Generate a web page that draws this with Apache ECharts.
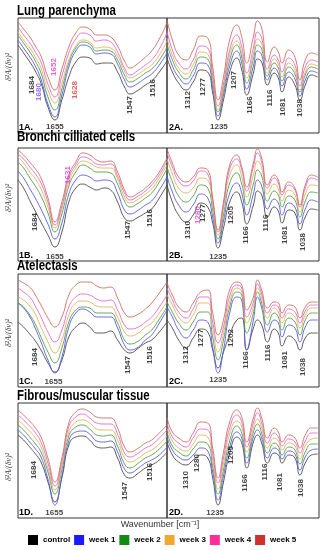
<!DOCTYPE html>
<html><head><meta charset="utf-8">
<script src="https://cdn.jsdelivr.net/npm/echarts@6/dist/echarts.min.js"></script>
<style>html,body{margin:0;padding:0;background:#fff}#c{width:326px;height:550px}</style>
</head><body><div id="c"></div><script>
// wavenumber sample positions (cm-1)
const wnLeft  = [1708, 1700, 1690, 1684, 1675, 1665, 1655, 1645, 1635, 1625, 1615, 1605, 1595, 1585, 1575, 1565, 1555, 1547, 1535, 1525, 1516, 1505, 1494];
const wnRight = [1358, 1345, 1330, 1312, 1295, 1277, 1260, 1248, 1235, 1222, 1207, 1190, 1178, 1166, 1150, 1140, 1130, 1116, 1100, 1090, 1081, 1065, 1050, 1038, 1025, 1010, 995];

const seriesNames = ['control', 'week 1', 'week 2', 'week 3', 'week 4', 'week 5'];
const titles = ['Lung parenchyma', 'Bronchi cilliated cells', 'Atelectasis', 'Fibrous/muscular tissue'];

// second-derivative spectra (arbitrary offset units), order: control, week1..week5
const panel1A = [
  [88, 80, 70, 63, 50, 26, 13, 33, 56, 71, 76, 75, 69, 70, 70, 61, 46, 39, 43, 48, 52, 61, 72],
  [93, 85, 75, 68, 54, 29, 16, 38, 66, 82, 88, 86, 79, 80, 79, 69, 53, 46, 50, 55, 59, 68, 80],
  [98, 90, 80, 73, 60, 36, 23, 44, 70, 85, 91, 89, 82, 83, 82, 73, 58, 51, 55, 60, 64, 73, 86],
  [101, 93, 84, 77, 65, 43, 30, 50, 73, 87, 93, 91, 85, 86, 85, 77, 62, 55, 59, 64, 68, 78, 92],
  [106, 98, 89, 82, 71, 49, 36, 57, 80, 94, 100, 98, 92, 93, 91, 81, 65, 58, 63, 68, 73, 84, 100],
  [111, 104, 95, 88, 77, 56, 43, 64, 86, 100, 106, 104, 98, 98, 96, 87, 72, 65, 70, 76, 82, 94, 110]
];
const panel2A = [
  [75, 61, 50, 43, 51, 63, 61, 40, 13, 33, 61, 75, 63, 38, 60, 74, 71, 48, 60, 55, 41, 56, 48, 33, 48, 58, 56],
  [83, 67, 56, 49, 57, 70, 68, 45, 17, 38, 67, 82, 70, 44, 67, 82, 78, 53, 65, 60, 47, 61, 54, 37, 53, 62, 60],
  [89, 73, 61, 54, 63, 76, 74, 50, 21, 42, 73, 88, 76, 50, 74, 88, 84, 57, 70, 65, 52, 66, 59, 41, 58, 66, 64],
  [95, 78, 65, 59, 68, 81, 79, 54, 23, 45, 78, 92, 80, 55, 79, 94, 89, 60, 74, 69, 56, 70, 63, 43, 61, 69, 67],
  [102, 83, 70, 64, 73, 87, 85, 58, 27, 49, 83, 98, 86, 60, 85, 101, 95, 64, 78, 73, 61, 75, 68, 47, 66, 73, 71],
  [113, 93, 78, 73, 83, 97, 95, 66, 33, 56, 93, 108, 96, 70, 96, 112, 105, 71, 86, 81, 70, 83, 76, 53, 73, 80, 78]
];
const panel1B = [
  [81, 73, 59, 51, 39, 26, 14, 29, 59, 73, 77, 74, 71, 73, 71, 59, 43, 40, 44, 48, 52, 63, 76],
  [90, 83, 71, 64, 52, 37, 22, 38, 67, 81, 86, 84, 80, 81, 80, 68, 51, 47, 51, 56, 60, 71, 84],
  [99, 93, 82, 76, 65, 48, 29, 47, 75, 89, 96, 93, 89, 89, 88, 77, 60, 54, 58, 63, 68, 79, 92],
  [104, 98, 88, 83, 72, 54, 33, 52, 79, 93, 100, 98, 94, 93, 93, 82, 64, 58, 62, 67, 72, 83, 96],
  [107, 102, 93, 88, 78, 59, 36, 55, 83, 96, 104, 102, 97, 96, 97, 85, 68, 61, 65, 70, 76, 86, 100],
  [111, 106, 98, 93, 83, 63, 39, 59, 86, 99, 108, 106, 101, 99, 100, 89, 71, 64, 68, 73, 79, 89, 103]
];
const panel2B = [
  [76, 59, 46, 39, 46, 58, 54, 38, 13, 33, 59, 69, 59, 37, 56, 70, 66, 44, 54, 50, 38, 51, 48, 31, 44, 52, 51],
  [85, 69, 56, 49, 56, 67, 63, 44, 18, 40, 68, 78, 68, 46, 67, 81, 75, 52, 62, 58, 46, 58, 54, 37, 52, 61, 59],
  [94, 79, 65, 59, 65, 76, 73, 51, 22, 46, 78, 88, 77, 56, 77, 91, 85, 60, 70, 66, 54, 65, 61, 44, 60, 69, 68],
  [102, 87, 73, 68, 73, 83, 81, 56, 26, 52, 86, 96, 84, 64, 86, 100, 93, 67, 77, 72, 60, 71, 66, 49, 67, 76, 75],
  [108, 94, 80, 75, 80, 90, 87, 61, 29, 56, 92, 102, 91, 70, 94, 108, 99, 73, 83, 78, 66, 76, 71, 54, 73, 83, 81],
  [112, 98, 84, 79, 84, 93, 91, 63, 31, 59, 96, 106, 94, 74, 98, 112, 103, 76, 86, 81, 69, 79, 73, 56, 76, 86, 84]
];
const panel1C = [
  [65, 60, 52, 47, 37, 24, 15, 27, 50, 60, 64, 60, 54, 54, 56, 47, 37, 34, 39, 44, 47, 55, 65],
  [84, 79, 69, 60, 45, 27, 14, 30, 60, 74, 78, 75, 70, 70, 70, 59, 42, 37, 40, 47, 52, 64, 77],
  [84, 80, 71, 64, 50, 35, 24, 39, 65, 77, 80, 79, 74, 74, 74, 64, 47, 43, 46, 52, 57, 68, 80],
  [90, 87, 80, 74, 60, 45, 34, 47, 72, 84, 86, 85, 81, 80, 80, 70, 55, 51, 54, 60, 64, 74, 85],
  [99, 95, 89, 82, 70, 55, 45, 57, 80, 90, 93, 92, 88, 86, 87, 77, 62, 58, 60, 65, 70, 80, 92],
  [107, 104, 99, 93, 82, 69, 60, 70, 92, 102, 105, 105, 101, 99, 100, 89, 74, 70, 73, 78, 84, 94, 105]
];
const panel2C = [
  [67, 59, 47, 39, 49, 58, 55, 37, 19, 35, 52, 67, 69, 37, 59, 67, 62, 45, 58, 54, 41, 51, 47, 37, 49, 54, 54],
  [80, 70, 57, 49, 57, 67, 65, 40, 14, 37, 74, 90, 87, 37, 67, 90, 79, 55, 67, 64, 50, 62, 59, 45, 60, 67, 67],
  [85, 75, 64, 57, 65, 75, 75, 50, 27, 47, 80, 95, 92, 54, 74, 95, 84, 62, 74, 70, 57, 69, 65, 52, 67, 74, 74],
  [92, 82, 70, 64, 72, 84, 84, 59, 35, 54, 85, 99, 95, 64, 80, 99, 89, 69, 79, 75, 64, 74, 70, 59, 72, 79, 79],
  [99, 87, 75, 69, 78, 90, 90, 65, 44, 60, 91, 102, 99, 70, 85, 103, 93, 74, 82, 80, 69, 78, 75, 64, 76, 82, 82],
  [104, 92, 80, 75, 84, 95, 97, 74, 52, 67, 97, 105, 102, 77, 90, 107, 97, 79, 85, 84, 74, 82, 80, 69, 80, 85, 85]
];
const panel1D = [
  [83, 78, 70, 65, 56, 36, 16, 40, 73, 81, 82, 78, 71, 70, 71, 60, 43, 40, 45, 50, 53, 58, 66],
  [88, 83, 75, 70, 61, 39, 13, 42, 77, 86, 87, 84, 77, 76, 77, 66, 49, 45, 50, 55, 58, 63, 71],
  [93, 88, 80, 75, 66, 46, 24, 48, 82, 91, 93, 89, 83, 82, 83, 72, 54, 50, 55, 60, 63, 69, 77],
  [98, 93, 86, 81, 71, 50, 28, 52, 86, 96, 98, 95, 89, 88, 88, 78, 60, 56, 60, 65, 68, 74, 82],
  [103, 98, 91, 86, 76, 55, 32, 56, 91, 101, 104, 100, 95, 94, 94, 84, 65, 61, 65, 70, 73, 80, 88],
  [108, 103, 96, 91, 81, 60, 36, 60, 95, 106, 109, 106, 101, 100, 100, 90, 71, 66, 70, 75, 78, 85, 93]
];
const panel2D = [
  [76, 63, 56, 53, 58, 63, 60, 40, 13, 36, 65, 81, 75, 50, 76, 83, 75, 55, 65, 63, 55, 63, 60, 43, 55, 63, 64],
  [81, 68, 61, 58, 63, 70, 67, 46, 18, 42, 71, 86, 80, 55, 81, 88, 80, 60, 70, 68, 59, 67, 64, 48, 61, 68, 69],
  [86, 72, 66, 62, 69, 76, 74, 52, 24, 48, 77, 92, 85, 60, 86, 94, 85, 65, 75, 72, 63, 71, 68, 54, 66, 74, 74],
  [90, 77, 70, 67, 74, 83, 81, 58, 29, 54, 84, 97, 91, 66, 90, 99, 90, 70, 80, 77, 68, 75, 72, 59, 72, 79, 80],
  [95, 81, 75, 71, 80, 89, 88, 64, 35, 60, 90, 103, 96, 71, 95, 105, 95, 75, 85, 81, 72, 79, 76, 65, 77, 85, 85],
  [100, 86, 80, 76, 85, 96, 95, 70, 40, 66, 96, 108, 101, 76, 100, 110, 100, 80, 90, 86, 76, 83, 80, 70, 83, 90, 90]
];

// peak annotations: [wavenumber, height, text, colour, horizontal?]
const labels1A = [[1688, 48, '1684', '#111'], [1678, 41, '1680', '#7b4dff'], [1656, 66, '1652', '#e040d0'], [1626, 43, '1628', '#e03a3a'], [1655, 6, '1655', '#111', 1], [1547, 28, '1547', '#111'], [1515, 45, '1516', '#111']];
const labels2A = [[1308, 33, '1312', '#111'], [1271, 46, '1277', '#111'], [1233, 6, '1235', '#111', 1], [1197, 53, '1207', '#111'], [1158, 28, '1166', '#111'], [1110, 35, '1116', '#111'], [1079, 26, '1081', '#111'], [1038, 25, '1038', '#111']];
const labels1B = [[1684, 39, '1684', '#111'], [1636, 86, '1631', '#e040d0'], [1655, 4, '1655', '#111', 1], [1550, 31, '1547', '#111'], [1518, 43, '1516', '#111']];
const labels2B = [[1308, 31, '1310', '#111'], [1283, 46, '1280', '#e040d0'], [1271, 48, '1277', '#111'], [1235, 4, '1235', '#111', 1], [1204, 46, '1205', '#111'], [1168, 26, '1166', '#111'], [1120, 38, '1116', '#111'], [1074, 26, '1081', '#111'], [1031, 19, '1038', '#111']];
const labels1C = [[1684, 30, '1684', '#111'], [1657, 5, '1655', '#111', 1], [1551, 22, '1547', '#111'], [1518, 32, '1516', '#111']];
const labels2C = [[1312, 32, '1312', '#111'], [1276, 49, '1277', '#111'], [1235, 7, '1235', '#111', 1], [1204, 49, '1202', '#111'], [1168, 27, '1166', '#111'], [1115, 34, '1116', '#111'], [1074, 27, '1081', '#111'], [1031, 20, '1038', '#111']];
const labels1D = [[1686, 48, '1684', '#111'], [1656, 5, '1655', '#111', 1], [1555, 27, '1547', '#111'], [1518, 46, '1516', '#111']];
const labels2D = [[1312, 38, '1310', '#111'], [1286, 55, '1280', '#111'], [1242, 5, '1235', '#111', 1], [1204, 63, '1205', '#111'], [1171, 35, '1166', '#111'], [1122, 46, '1116', '#111'], [1086, 36, '1081', '#111'], [1036, 30, '1038', '#111']];

const lineColors = ['#4a4a4a', '#5a5ae6', '#4fa04f', '#e2b45a', '#e06ad0', '#cc7060'];
const legendColors = ['#000000', '#1a1aff', '#138a13', '#f0a830', '#ff2d9a', '#d0312d'];

const rows = [{ top: 18, h: 115 }, { top: 148, h: 113 }, { top: 274, h: 113 }, { top: 403, h: 115 }];
const panels = [
  [panel1A, labels1A, '1A.'], [panel2A, labels2A, '2A.'],
  [panel1B, labels1B, '1B.'], [panel2B, labels2B, '2B.'],
  [panel1C, labels1C, '1C.'], [panel2C, labels2C, '2C.'],
  [panel1D, labels1D, '1D.'], [panel2D, labels2D, '2D.']
];

const grid = [], xAxis = [], yAxis = [], series = [], graphic = [];
panels.forEach((p, g) => {
  const r = rows[Math.floor(g / 2)];
  const left = g % 2 === 0;
  grid.push({ left: left ? 18 : 167, width: left ? 149 : 152, top: r.top, height: r.h, show: true, borderColor: '#333', borderWidth: 1, backgroundColor: 'transparent' });
  xAxis.push({ gridIndex: g, type: 'value', min: left ? 1494 : 992, max: left ? 1708 : 1358, inverse: true, show: false });
  yAxis.push({ gridIndex: g, type: 'value', min: 0, max: r.h, show: false });
  const wn = left ? wnLeft : wnRight;
  p[0].forEach((vals, i) => {
    series.push({
      type: 'line', name: seriesNames[i], xAxisIndex: g, yAxisIndex: g,
      data: wn.map((w, k) => [w, vals[k]]), smooth: 0.5, symbol: 'none',
      lineStyle: { width: 1, color: lineColors[i], opacity: 0.9 }, itemStyle: { color: legendColors[i] },
      silent: true, animation: false
    });
  });
  series.push({
    type: 'scatter', name: 'peaks' + g, xAxisIndex: g, yAxisIndex: g, symbolSize: 0, silent: true, animation: false, z: 10,
    data: p[1].map(l => ({ value: [l[0], l[1]], name: l[2], label: { color: l[3], rotate: l[4] ? 0 : 90 } })),
    label: { show: true, position: 'inside', formatter: '{b}', fontSize: 8, fontWeight: 'bold', fontFamily: 'Liberation Sans' }
  });
  graphic.push({ type: 'text', left: left ? 19 : 169, top: r.top + r.h - 10, style: { text: p[2], font: 'bold 9px "Liberation Sans"', fill: '#000' } });
});

const titleTops = [4, 130, 259, 389];
titles.forEach((t, i) => graphic.push({ type: 'text', x: 17, y: titleTops[i], scaleX: 0.82, style: { text: t, font: 'bold 14px "Liberation Sans"', fill: '#000', verticalAlign: 'top' } }));
[67, 198, 333, 467].forEach(y => graphic.push({ type: 'text', x: 9, y: y, rotation: Math.PI / 2, style: { text: 'δ²A/(δν)²', font: 'italic 8px "Liberation Serif"', fill: '#444', align: 'center', verticalAlign: 'middle' } }));
graphic.push({ type: 'text', x: 160, y: 525, style: { text: 'Wavenumber [cm⁻¹]', font: '9px "Liberation Sans"', fill: '#333', align: 'center', verticalAlign: 'middle' } });

const chart = echarts.init(document.getElementById('c'), null, { renderer: 'canvas' });
chart.setOption({
  animation: false,
  backgroundColor: '#fff',
  grid, xAxis, yAxis, series, graphic,
  legend: {
    data: seriesNames, left: 28, top: 535, width: 296, padding: 0, itemWidth: 10, itemHeight: 10, itemGap: 4, icon: 'rect',
    textStyle: { fontSize: 8, fontWeight: 'bold', fontFamily: 'Liberation Sans', color: '#000' }
  }
});
</script></body></html>
